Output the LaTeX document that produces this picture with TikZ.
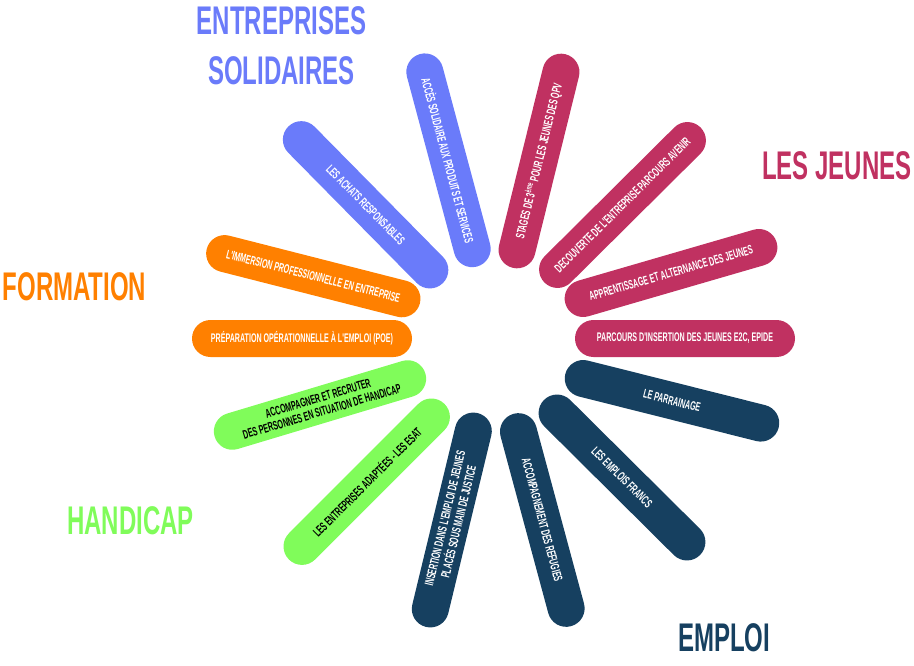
\documentclass[tikz,border=0pt]{standalone}
\usepackage{fontspec}
\usepackage{tikz}

\newfontfamily\dinfont[FakeStretch=0.57]{Liberation Sans}
\newfontfamily\dintitle[FakeStretch=0.6]{Liberation Sans}

\definecolor{solidaire}{RGB}{106,123,250}
\definecolor{jeunes}{RGB}{192,49,97}
\definecolor{formation}{RGB}{255,128,0}
\definecolor{handicap}{RGB}{128,252,90}
\definecolor{emploi}{RGB}{22,64,96}

\begin{document}
\begin{tikzpicture}[x=1pt, y=-1pt,
    pill/.style={rectangle, rounded corners=18.5pt, minimum width=220pt, minimum height=37pt,
        inner sep=2pt, align=center, text=white, font=\dinfont\bfseries\fontsize{12.5}{14}\selectfont},
    theme/.style={inner sep=0pt, align=center, font=\dintitle\bfseries\fontsize{40}{50}\selectfont}]
        % --- 1. Canvas ---
        \useasboundingbox (0,0) rectangle (914,666);

        % --- 2. Entreprises solidaires ---
        \node[theme, text=solidaire] (tSolidaire) at (281.6,46) {ENTREPRISES\\SOLIDAIRES};
        \node[pill, fill=solidaire, rotate=-45.4] (achats) at (365.6,204.8) {LES ACHATS RESPONSABLES};
        \node[pill, fill=solidaire, rotate=-75] (acces) at (448.5,160.3) {ACCÈS SOLIDAIRE AUX PRODUITS ET SERVICES};

        % --- 3. Les jeunes ---
        \node[theme, text=jeunes] (tJeunes) at (837,166) {LES JEUNES};
        \node[pill, fill=jeunes, rotate=76.1] (stages) at (539,161) {STAGES DE 3\textsuperscript{ème} POUR LES JEUNES DES QPV};
        \node[pill, fill=jeunes, rotate=44.8] (decouverte) at (622.5,205) {DECOUVERTE DE L'ENTREPRISE PARCOURS AVENIR};
        \node[pill, fill=jeunes, rotate=16.2] (apprentissage) at (671,273) {APPRENTISSAGE ET ALTERNANCE DES JEUNES};
        \node[pill, fill=jeunes] (parcours) at (685,338.5) {PARCOURS D'INSERTION DES JEUNES E2C, EPIDE};

        % --- 4. Emploi ---
        \node[theme, text=emploi] (tEmploi) at (724,637.5) {EMPLOI};
        \node[pill, fill=emploi, rotate=-14.1] (parrainage) at (672,400.8) {LE PARRAINAGE};
        \node[pill, fill=emploi, rotate=-44.8] (francs) at (622,477.5) {LES EMPLOIS FRANCS};
        \node[pill, fill=emploi, rotate=-74.9] (refugies) at (542.3,520) {ACCOMPAGNEMENT DES REFUGIES};
        \node[pill, fill=emploi, rotate=76.4] (justice) at (451.8,520) {INSERTION DANS L'EMPLOI DE JEUNES\\PLACÉS SOUS MAIN DE JUSTICE};

        % --- 5. Handicap ---
        \node[theme, text=handicap] (tHandicap) at (130.5,520.5) {HANDICAP};
        \node[pill, fill=handicap, text=black, rotate=45] (esat) at (366.7,481.7) {LES ENTREPRISES ADAPTÉES - LES ESAT};
        \node[pill, fill=handicap, text=black, rotate=16.7] (recruter) at (320,405) {ACCOMPAGNER ET RECRUTER\\DES PERSONNES EN SITUATION DE HANDICAP};

        % --- 6. Formation ---
        \node[theme, text=formation] (tFormation) at (74.5,286.5) {FORMATION};
        \node[pill, fill=formation] (poe) at (302,338.5) {PRÉPARATION OPÉRATIONNELLE À L'EMPLOI (POE)};
        \node[pill, fill=formation, rotate=-14.3] (immersion) at (313.3,276.2) {L'IMMERSION PROFESSIONNELLE EN ENTREPRISE};
\end{tikzpicture}
\end{document}
